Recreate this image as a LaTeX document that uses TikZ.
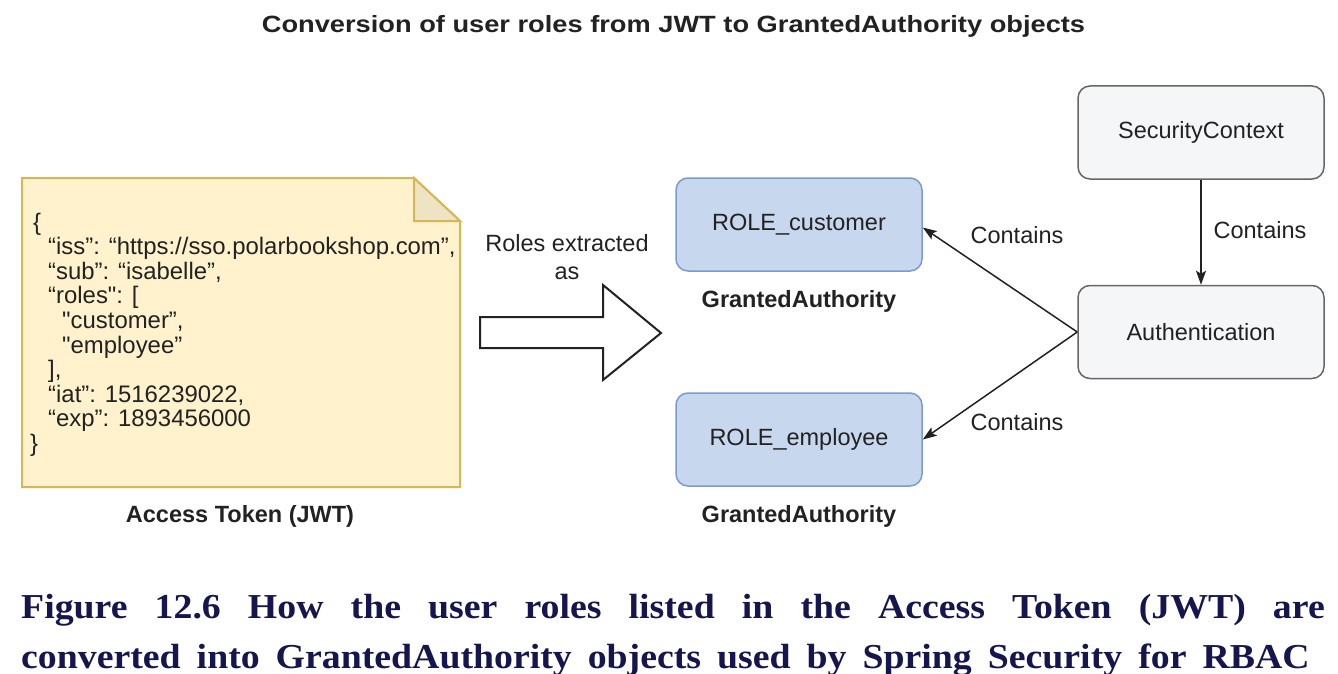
\documentclass[tikz,border=0pt]{standalone}
\usepackage{fontspec}
\setmainfont{Liberation Sans}
\newfontfamily\jsonfont{Liberation Sans}[Ligatures=TeXOff]
\newfontfamily\capfont{Liberation Serif}
\usetikzlibrary{arrows.meta}
\definecolor{notefill}{HTML}{FFF2CC}
\definecolor{notedraw}{HTML}{D6B656}
\definecolor{foldfill}{HTML}{EEE4C4}
\definecolor{bluefill}{HTML}{C7D8EE}
\definecolor{bluedraw}{HTML}{7B9BCF}
\definecolor{greyfill}{HTML}{F5F6F8}
\definecolor{greydraw}{HTML}{666666}
\definecolor{txt}{HTML}{222222}
\definecolor{capcol}{HTML}{16164F}
\tikzset{
  diag/.style={font=\fontsize{23.5}{24.6}\selectfont, text=txt},
  bluebox/.style={diag, draw=bluedraw, fill=bluefill, line width=1.5pt, rounded corners=12pt, minimum width=246pt, minimum height=93pt, inner sep=0pt},
  greybox/.style={diag, draw=greydraw, fill=greyfill, line width=1.5pt, rounded corners=12pt, minimum width=246pt, minimum height=93pt, inner sep=0pt},
  boldlabel/.style={diag, font=\fontsize{23.5}{24.6}\selectfont\bfseries, inner sep=0pt},
  lbl/.style={diag, inner sep=0pt},
  conn/.style={draw=txt, line width=1.5pt, -{Stealth[length=14pt, width=10pt, inset=3pt]}},
  captext/.style={text=capcol, inner sep=0pt, font=\capfont\bfseries\fontsize{35}{40}\selectfont}
}
\begin{document}
\begin{tikzpicture}[x=1pt,y=-1pt]
\useasboundingbox (0,0) rectangle (1338,674);
\fill[white] (0,0) rectangle (1338,674);

% title
\node[boldlabel] (title) at (673.5,26) {\scalebox{1.159}[1]{Conversion of user roles from JWT to GrantedAuthority objects}};

% access token note
\draw[draw=notedraw, fill=notefill, line width=2pt, line join=miter]
  (22,178) -- (414,178) -- (460,221) -- (460,487) -- (22,487) -- cycle;
\draw[draw=notedraw, fill=foldfill, line width=2pt, line join=miter]
  (414,178) -- (460,221) -- (414,221) -- cycle;
\node[diag, font=\jsonfont\fontsize{23.9}{24.6}\selectfont, anchor=base west, align=left, inner sep=0pt] (json) at (33,451.5) {%
\{\\
\hspace{15pt}“iss”: “https://sso.polarbookshop.com”,\\
\hspace{15pt}“sub”: “isabelle”,\\
\hspace{15pt}“roles": [\\
\hspace{29pt}"customer”,\\
\hspace{29pt}"employee”\\
\hspace{15pt}],\\
\hspace{15pt}“iat”: 1516239022,\\
\hspace{15pt}“exp”: 1893456000\\
\hspace{-3pt}\}};
\node[boldlabel] (tokenlbl) at (240,516) {Access Token (JWT)};

% big arrow
\draw[draw=txt, fill=white, line width=2pt, line join=miter]
  (480,317) -- (603,317) -- (603,285) -- (661,333) -- (603,380) -- (603,348) -- (480,348) -- cycle;
\node[lbl, align=center, font=\fontsize{23.5}{28.5}\selectfont] (extr) at (567,257) {Roles extracted\\as};

% authority boxes
\node[bluebox] (cust) at (799,224.5) {ROLE\_customer};
\node[boldlabel] (custlbl) at (799,301) {GrantedAuthority};
\node[bluebox] (emp) at (799,439.5) {ROLE\_employee};
\node[boldlabel] (emplbl) at (799,516) {GrantedAuthority};

% security boxes
\node[greybox] (sc) at (1201,132.5) {SecurityContext};
\node[greybox] (auth) at (1201,332) {Authentication};

% connectors
\draw[conn] (sc.south) -- (auth.north);
\draw[conn] (auth.west) -- ([yshift=-3pt]cust.east);
\draw[conn] (auth.west) -- (emp.east);
\node[lbl] (c1) at (1260,230) {Contains};
\node[lbl] (c2) at (1017,235) {Contains};
\node[lbl] (c3) at (1017,422) {Contains};

% caption
\node[captext, anchor=base west] (cap1) at (21,618) {\scalebox{1.08}[1]{\makebox[1207pt][s]{Figure 12.6 How the user roles listed in the Access Token (JWT) are}}};
\node[captext, anchor=base west] (cap2) at (21,668) {\scalebox{1.08}[1]{\makebox[1193pt][s]{converted into GrantedAuthority objects used by Spring Security for RBAC}}};
\end{tikzpicture}
\end{document}
